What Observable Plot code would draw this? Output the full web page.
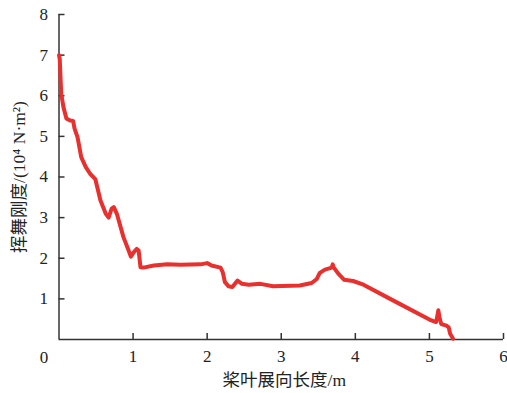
<!DOCTYPE html>
<html>
<head>
<meta charset="utf-8">
<script src="https://cdn.jsdelivr.net/npm/d3@7"></script>
<script src="https://cdn.jsdelivr.net/npm/@observablehq/plot@0.6"></script>
<style>
  html, body { margin: 0; padding: 0; background: #fff; }
</style>
</head>
<body>
<div id="chart"></div>
<script>
const spanX = [0, 0.01, 0.03, 0.06, 0.10, 0.15, 0.19, 0.21, 0.25, 0.30, 0.36, 0.42, 0.49, 0.56, 0.63, 0.67, 0.71, 0.74, 0.78, 0.87, 0.94, 0.97, 1.01, 1.05, 1.075, 1.10, 1.14, 1.28, 1.46, 1.64, 1.91, 2.0, 2.06, 2.18, 2.21, 2.24, 2.29, 2.34, 2.41, 2.47, 2.56, 2.72, 2.89, 3.25, 3.41, 3.48, 3.52, 3.59, 3.68, 3.695, 3.71, 3.77, 3.85, 3.97, 4.11, 4.47, 5.0, 5.09, 5.10, 5.12, 5.14, 5.16, 5.23, 5.26, 5.28, 5.32];
const stiffness = [7.0, 6.9, 6.05, 5.72, 5.44, 5.39, 5.38, 5.19, 4.98, 4.49, 4.25, 4.08, 3.95, 3.42, 3.1, 3.0, 3.22, 3.26, 3.1, 2.52, 2.19, 2.04, 2.15, 2.23, 2.19, 1.78, 1.77, 1.82, 1.85, 1.84, 1.85, 1.88, 1.82, 1.77, 1.66, 1.41, 1.31, 1.29, 1.45, 1.37, 1.35, 1.37, 1.31, 1.33, 1.39, 1.49, 1.64, 1.72, 1.77, 1.85, 1.77, 1.62, 1.47, 1.44, 1.35, 1.0, 0.49, 0.43, 0.51, 0.72, 0.51, 0.38, 0.34, 0.30, 0.14, 0.02];
const xTicks = [1, 2, 3, 4, 5, 6];
const yTicks = [1, 2, 3, 4, 5, 6, 7, 8];
const originLabel = [0];
const xLabel = "桨叶展向长度/m";
const yLabel = "挥舞刚度/(10⁴ N·m²)";

const serif = "Liberation Serif";
const mixed = "Liberation Serif, Noto Sans CJK SC";

const data = spanX.map((x, i) => ({x, y: stiffness[i]}));

const chart = Plot.plot({
  width: 507,
  height: 393,
  marginLeft: 58.5,
  marginRight: 4,
  marginTop: 14,
  marginBottom: 54,
  x: {domain: [0, 6]},
  y: {domain: [0, 8]},
  style: {fontFamily: serif, fontSize: "17px", color: "#222", background: "#fff"},
  marks: [
    Plot.axisX({ticks: xTicks, tickSize: -6, tickPadding: 16, tickFormat: d => d, label: null, stroke: "#333", strokeWidth: 1.5, fontSize: 17, fontFamily: serif}),
    Plot.axisY({ticks: yTicks, tickSize: -6, tickPadding: 17, tickFormat: d => d, label: null, stroke: "#333", strokeWidth: 1.5, fontSize: 17, fontFamily: serif}),
    Plot.text(originLabel, {x: d => d, y: d => d, text: d => String(d), dx: -15, dy: 18, fontSize: 17, fontFamily: serif}),
    Plot.ruleX([0], {stroke: "#333", strokeWidth: 1.5}),
    Plot.ruleY([0], {stroke: "#333", strokeWidth: 1.5}),
    Plot.line(data, {x: "x", y: "y", stroke: "#e8302e", strokeWidth: 4, strokeLinejoin: "round", strokeLinecap: "round"}),
    Plot.text([xLabel], {frameAnchor: "bottom", textAnchor: "middle", lineAnchor: "middle", text: d => d, dx: 3, dy: 41, fontSize: 17.5, fontFamily: mixed}),
    Plot.text([yLabel], {frameAnchor: "left", textAnchor: "middle", lineAnchor: "middle", text: d => d, dx: -40, rotate: -90, fontSize: 17.5, fontFamily: mixed})
  ]
});
document.getElementById("chart").appendChild(chart);
</script>
</body>
</html>
